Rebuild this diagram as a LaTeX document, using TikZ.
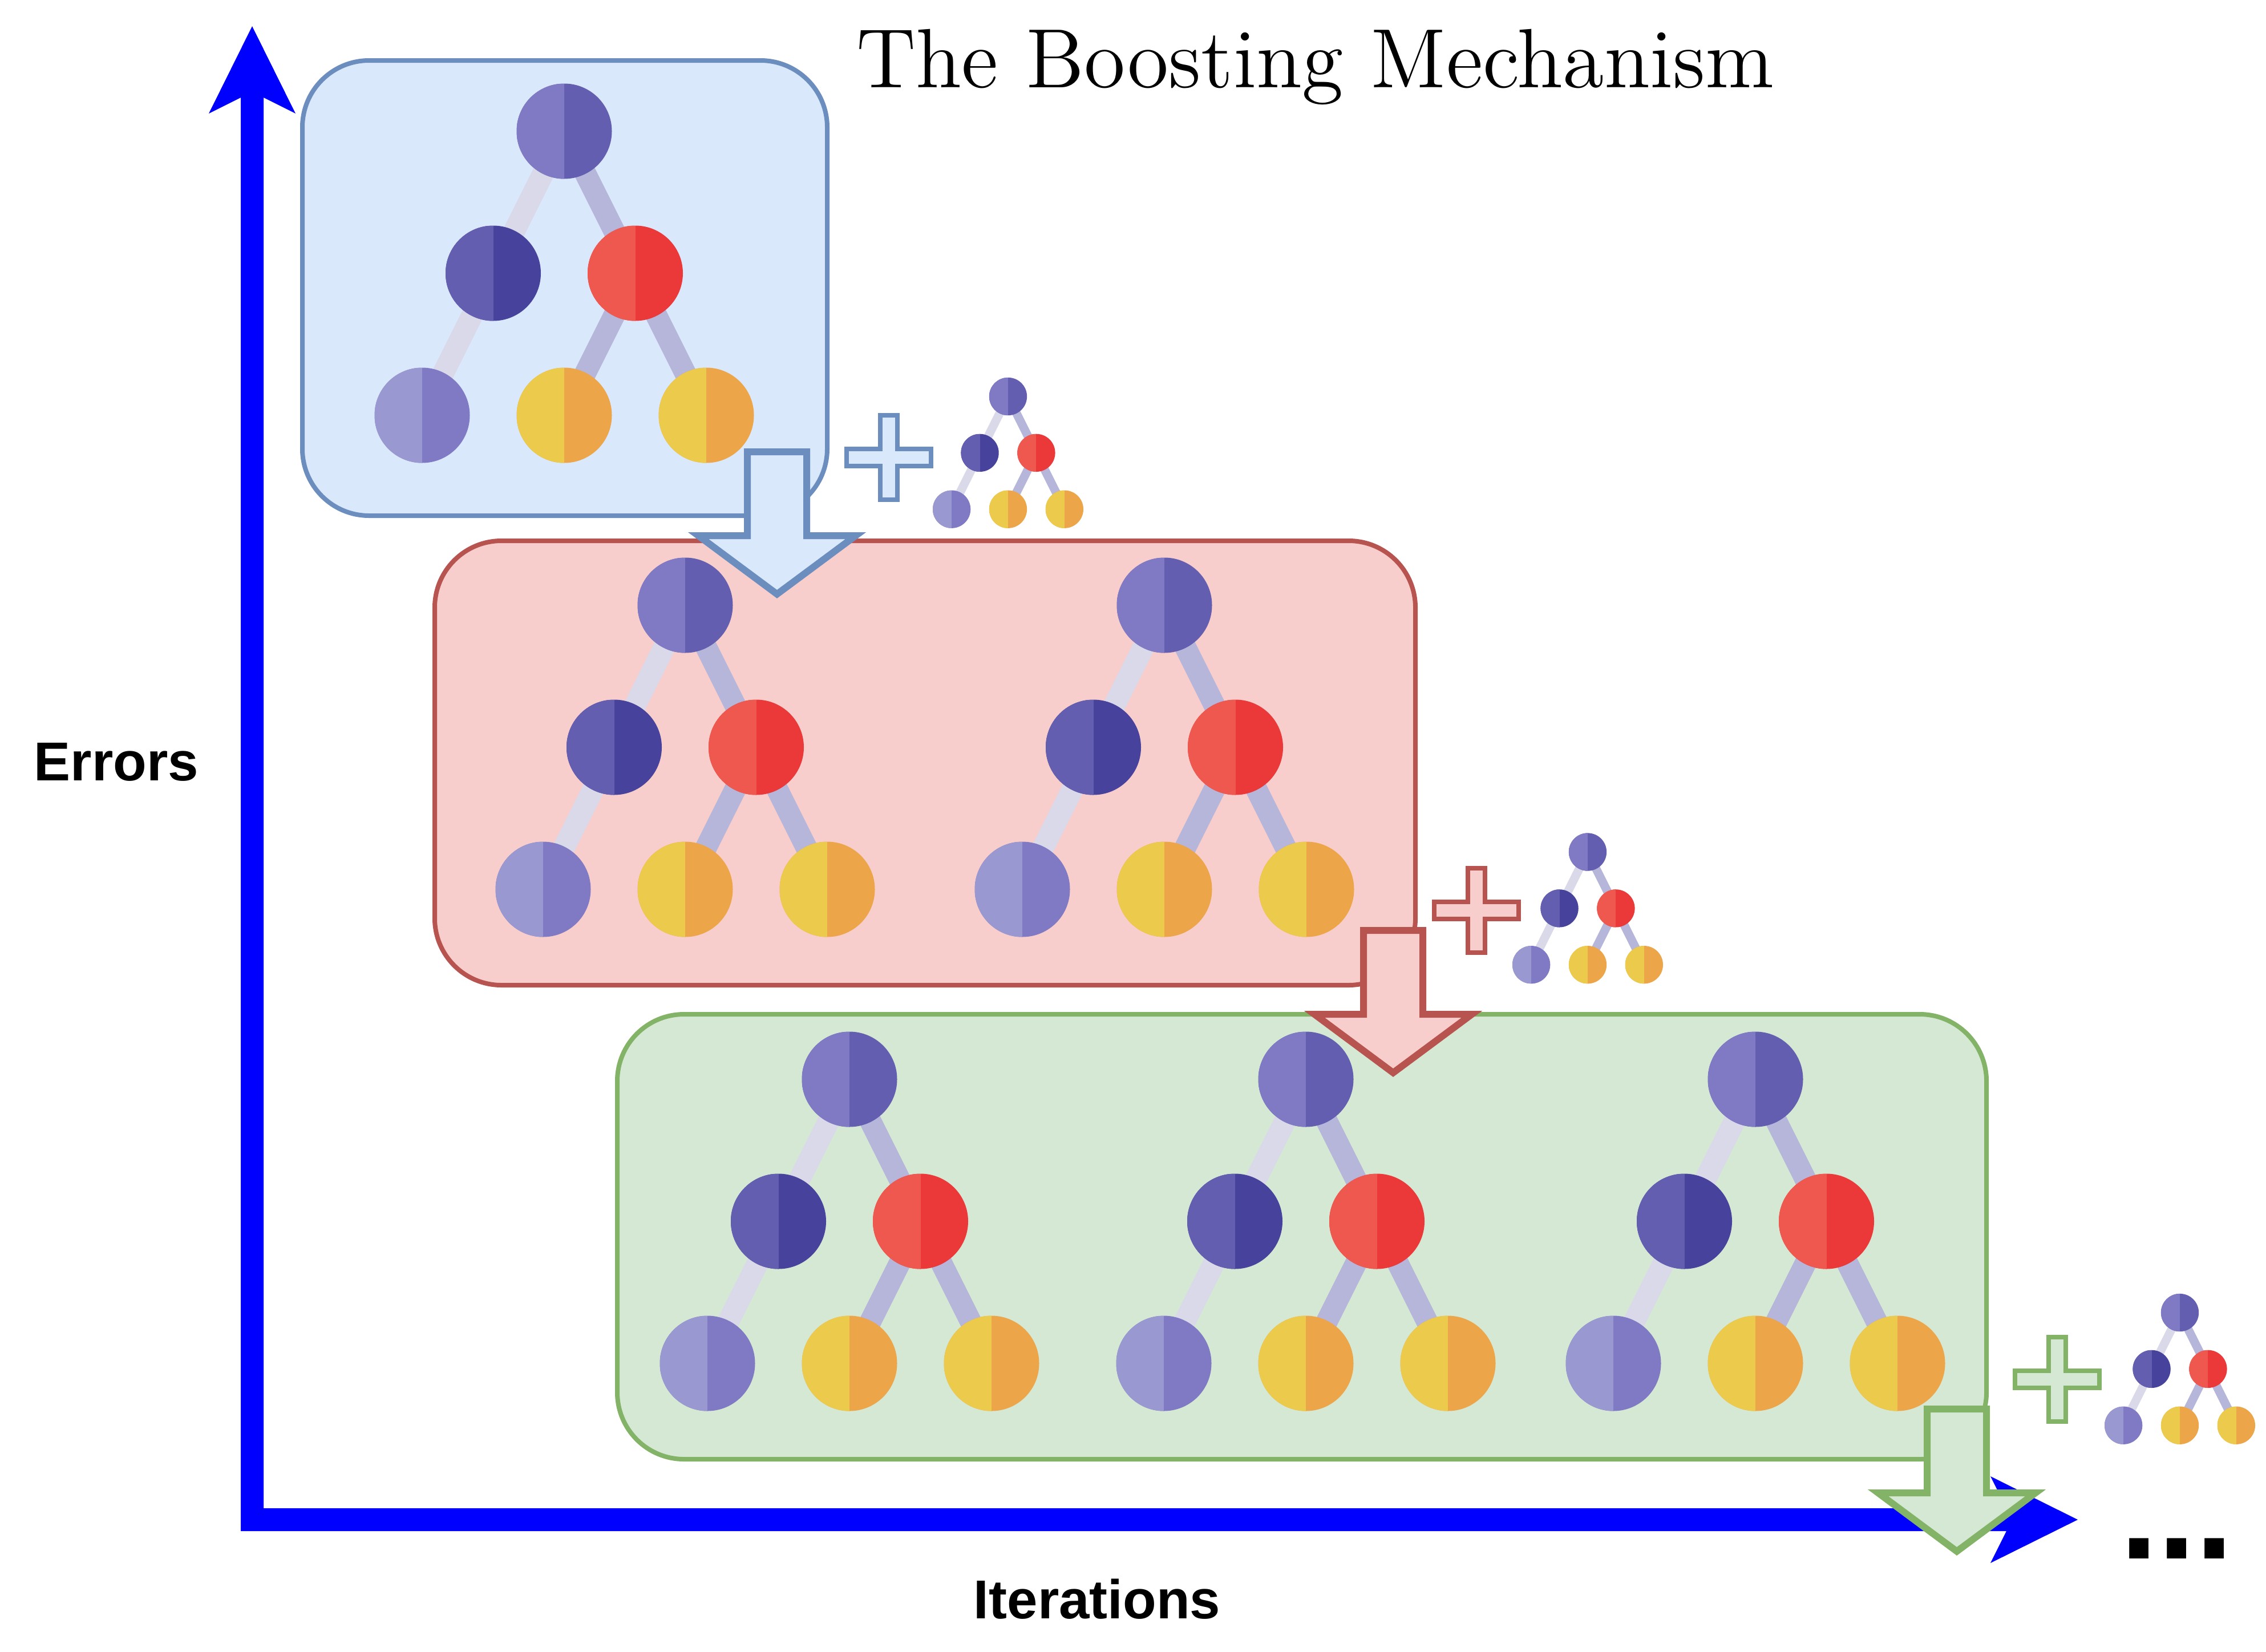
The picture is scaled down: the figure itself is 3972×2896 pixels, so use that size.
\documentclass[tikz,border=0pt]{standalone}
\usepackage{fontspec}
\setsansfont{Liberation Sans}
\newfontfamily\titlefont{lmroman12-regular.otf}
\pgfdeclarelayer{rects}
\pgfdeclarelayer{edges}
\pgfdeclarelayer{top}
\pgfsetlayers{rects,edges,main,top}
\definecolor{bfill}{HTML}{DAE8FC}\definecolor{bline}{HTML}{6C8EBF}
\definecolor{rfill}{HTML}{F8CECC}\definecolor{rline}{HTML}{B85450}
\definecolor{gfill}{HTML}{D5E8D4}\definecolor{gline}{HTML}{82B366}
\definecolor{pA}{HTML}{807AC4}\definecolor{pB}{HTML}{635EB0}
\definecolor{pC}{HTML}{47429C}\definecolor{pD}{HTML}{9A98D0}
\definecolor{rA}{HTML}{EF584F}\definecolor{rB}{HTML}{EB3838}
\definecolor{yA}{HTML}{ECCA4B}\definecolor{yB}{HTML}{ECA549}
\definecolor{eL}{HTML}{DAD9EA}\definecolor{eR}{HTML}{B6B5DA}
\tikzset{
  half/.style 2 args={circle,inner sep=0pt,outer sep=0pt,fill=#2,
    path picture={\fill[#1] (path picture bounding box.south west) rectangle (path picture bounding box.north);}},
  rootn/.style={half={pA}{pB}},
  leftn/.style={half={pB}{pC}},
  rightn/.style={half={rA}{rB}},
  purpleleaf/.style={half={pD}{pA}},
  yellowleaf/.style={half={yA}{yB}},
  panel/.style 2 args={draw=#1,fill=#2,line width=8pt,rounded corners=117pt,inner sep=0pt,outer sep=0pt},
  plusshape/.style 2 args={draw=#1,fill=#2,line width=8pt,miter limit=10},
  downshape/.style 2 args={draw=#1,fill=#2,line width=12pt,miter limit=10},
  titletext/.style={inner sep=0pt,outer sep=0pt,anchor=base,font=\titlefont\fontsize{147.5}{150}\selectfont},
  labeltext/.style={inner sep=0pt,outer sep=0pt,anchor=base,font=\sffamily\bfseries\fontsize{96}{96}\selectfont},
  dotstext/.style={inner sep=0pt,outer sep=0pt,anchor=base west,font=\sffamily\bfseries\fontsize{239}{239}\selectfont},
}
\newcommand{\treeat}[4]{%
  \node[rootn,minimum size={167*#4}] (#1r) at (#2,#3) {};
  \node[leftn,minimum size={167*#4}] (#1a) at ({#2-124.5*#4},{#3+249*#4}) {};
  \node[rightn,minimum size={167*#4}] (#1b) at ({#2+124.5*#4},{#3+249*#4}) {};
  \node[purpleleaf,minimum size={167*#4}] (#1c) at ({#2-249*#4},{#3+498*#4}) {};
  \node[yellowleaf,minimum size={167*#4}] (#1d) at (#2,{#3+498*#4}) {};
  \node[yellowleaf,minimum size={167*#4}] (#1e) at ({#2+249*#4},{#3+498*#4}) {};
  \begin{pgfonlayer}{edges}
    \draw[eL,line width={38*#4}] (#1r.center) -- (#1a.center);
    \draw[eL,line width={38*#4}] (#1a.center) -- (#1c.center);
    \draw[eR,line width={38*#4}] (#1r.center) -- (#1b.center);
    \draw[eR,line width={38*#4}] (#1b.center) -- (#1d.center);
    \draw[eR,line width={38*#4}] (#1b.center) -- (#1e.center);
  \end{pgfonlayer}}
\newcommand{\plusat}[4]{%
  \draw[plusshape={#3}{#4},shift={(#1,#2)}] (-15,-74) -- (15,-74) -- (15,-15) -- (74,-15) -- (74,15) -- (15,15) -- (15,74) -- (-15,74) -- (-15,15) -- (-74,15) -- (-74,-15) -- (-15,-15) -- cycle;}
\newcommand{\downat}[4]{%
  \begin{pgfonlayer}{top}
  \draw[downshape={#3}{#4},shift={(#1,#2)}] (-52,6) -- (52,6) -- (52,153) -- (138,153) -- (0,255.5) -- (-138,153) -- (-52,153) -- cycle;
  \end{pgfonlayer}}
\begin{document}
\begin{tikzpicture}[x=1pt,y=-1pt]
\useasboundingbox (0,0) rectangle (3972,2896);
\begin{pgfonlayer}{rects}
  \fill[blue] (442,46) -- (518,199) -- (462,171) -- (462,2644) -- (3517,2644) -- (3489,2588) -- (3642,2664) -- (3489,2740) -- (3517,2684) -- (422,2684) -- (422,171) -- (366,199) -- cycle;
  \node[panel={bline}{bfill},minimum width=920pt,minimum height=798pt] (bluepanel) at (990,505) {};
  \node[panel={rline}{rfill},minimum width=1719pt,minimum height=779pt] (redpanel) at (1621.5,1337.5) {};
  \node[panel={gline}{gfill},minimum width=2400pt,minimum height=780pt] (greenpanel) at (2282,2168) {};
\end{pgfonlayer}
\node[titletext] (title) at (2305.5,153) {The Boosting Mechanism};
\node[labeltext] (errors) at (204,1368) {Errors};
\node[labeltext] (iterations) at (1923,2837) {Iterations};
\node[dotstext] (dots) at (3716,2732) {...};
\treeat{t}{989}{230}{1}
\treeat{ra}{1201}{1061}{1}
\treeat{rb}{2041}{1061}{1}
\treeat{ga}{1489}{1892}{1}
\treeat{gb}{2289}{1892}{1}
\treeat{gc}{3077}{1892}{1}
\treeat{sa}{1767}{695}{0.397}
\treeat{sb}{2783}{1493.5}{0.397}
\treeat{sc}{3821}{2301}{0.397}
\plusat{1558}{802}{bline}{bfill}
\plusat{2588}{1596}{rline}{rfill}
\plusat{3606}{2418}{gline}{gfill}
\downat{1362}{786}{bline}{bfill}
\downat{2442}{1625}{rline}{rfill}
\downat{3430}{2464}{gline}{gfill}
\end{tikzpicture}
\end{document}
